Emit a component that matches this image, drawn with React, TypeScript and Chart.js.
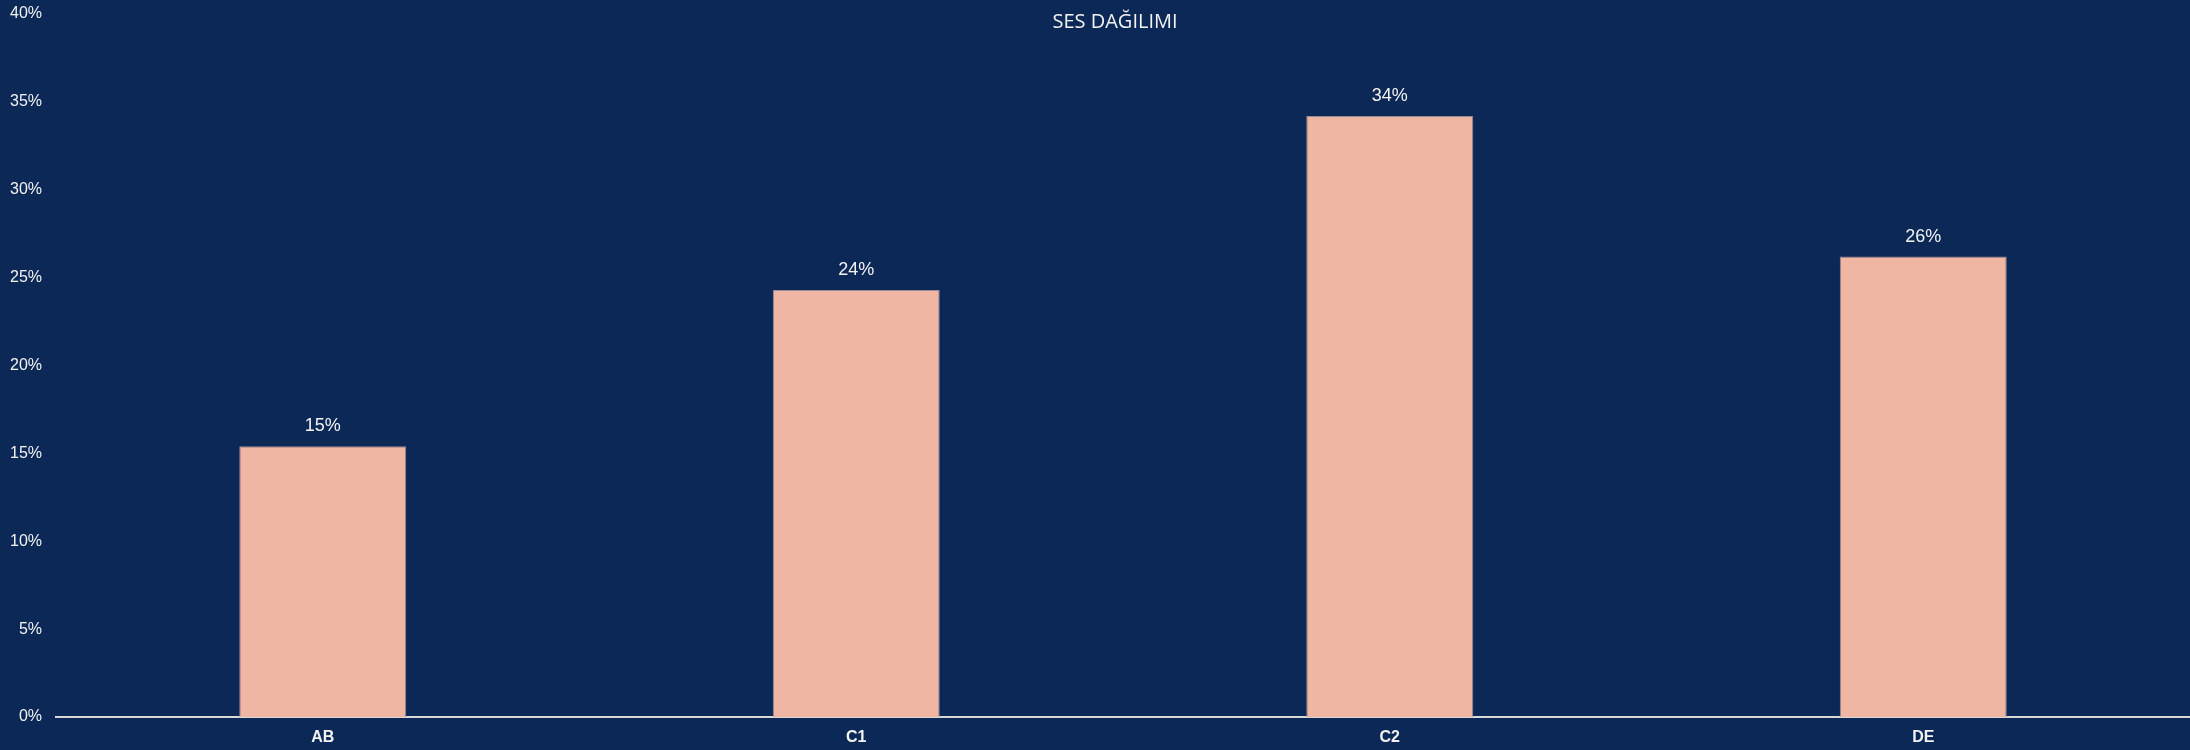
import React, { useEffect, useRef } from "react";
import { Chart, registerables } from "chart.js";

Chart.register(...registerables);

const categories = ["AB", "C1", "C2", "DE"];
const values = [15.4, 24.3, 34.2, 26.2];
const valueLabels = ["15%", "24%", "34%", "26%"];
const titleText = "SES DAĞILIMI";

const BG = "#0C2856";
const BAR = "#EFB6A4";
const TEXT = "#F2F2F2";

const bgPlugin = {
  id: "bgPlugin",
  beforeDraw(chart: any) {
    const { ctx, width, height } = chart;
    ctx.save();
    ctx.fillStyle = BG;
    ctx.fillRect(0, 0, width, height);
    ctx.restore();
  },
  afterDraw(chart: any) {
    const { ctx } = chart;
    ctx.save();
    ctx.fillStyle = TEXT;
    ctx.font = '20px "Open Sans", sans-serif';
    ctx.textAlign = "center";
    ctx.textBaseline = "middle";
    ctx.fillText(titleText, 1115, 22);
    const meta = chart.getDatasetMeta(0);
    ctx.font = '18px "Liberation Sans", Arial, sans-serif';
    ctx.textBaseline = "middle";
    meta.data.forEach((bar: any, i: number) => {
      ctx.fillText(valueLabels[i], bar.x, bar.y - 20);
    });
    ctx.restore();
  },
};

export default function App() {
  const ref = useRef<HTMLCanvasElement | null>(null);
  useEffect(() => {
    if (!ref.current) return;
    const chart = new Chart(ref.current, {
      type: "bar",
      data: {
        labels: categories,
        datasets: [
          {
            data: values,
            backgroundColor: BAR,
            borderColor: "#9C8894",
            borderWidth: { top: 1, left: 1, right: 1, bottom: 0 },
            barPercentage: 0.313,
            categoryPercentage: 1,
          },
        ],
      },
      options: {
        animation: false,
        responsive: false,
        maintainAspectRatio: false,
        layout: { padding: { left: 0, right: 0, top: 14, bottom: 0 } },
        plugins: {
          legend: { display: false },
          title: { display: false },
          tooltip: { enabled: false },
        },
        scales: {
          x: {
            grid: { display: false, drawTicks: false },
            border: { display: true, color: "#D9D9D9", width: 2 },
            ticks: {
              color: TEXT,
              padding: 11,
              font: { family: '"Liberation Sans", Arial, sans-serif', size: 16, weight: "bold" },
            },
            afterFit: (s: any) => {
              s.paddingLeft = 0;
              s.paddingRight = 0;
              s.height = 33;
            },
          },
          y: {
            min: 0,
            max: 40,
            grid: { display: false, drawTicks: false },
            border: { display: false },
            ticks: {
              stepSize: 5,
              color: TEXT,
              padding: 14,
              font: { family: '"Liberation Sans", Arial, sans-serif', size: 16 },
              callback: (v: any) => v + "%",
            },
            afterFit: (s: any) => {
              s.width = 56;
              s.paddingTop = 0;
              s.paddingBottom = 0;
            },
          },
        },
      },
      plugins: [bgPlugin],
    });
    return () => chart.destroy();
  }, []);
  return (
    <div style={{ position: "fixed", left: 0, top: 0, width: 2190, height: 750, background: BG }}>
      <canvas ref={ref} width={2190} height={750} style={{ width: 2190, height: 750, display: "block" }} />
    </div>
  );
}
